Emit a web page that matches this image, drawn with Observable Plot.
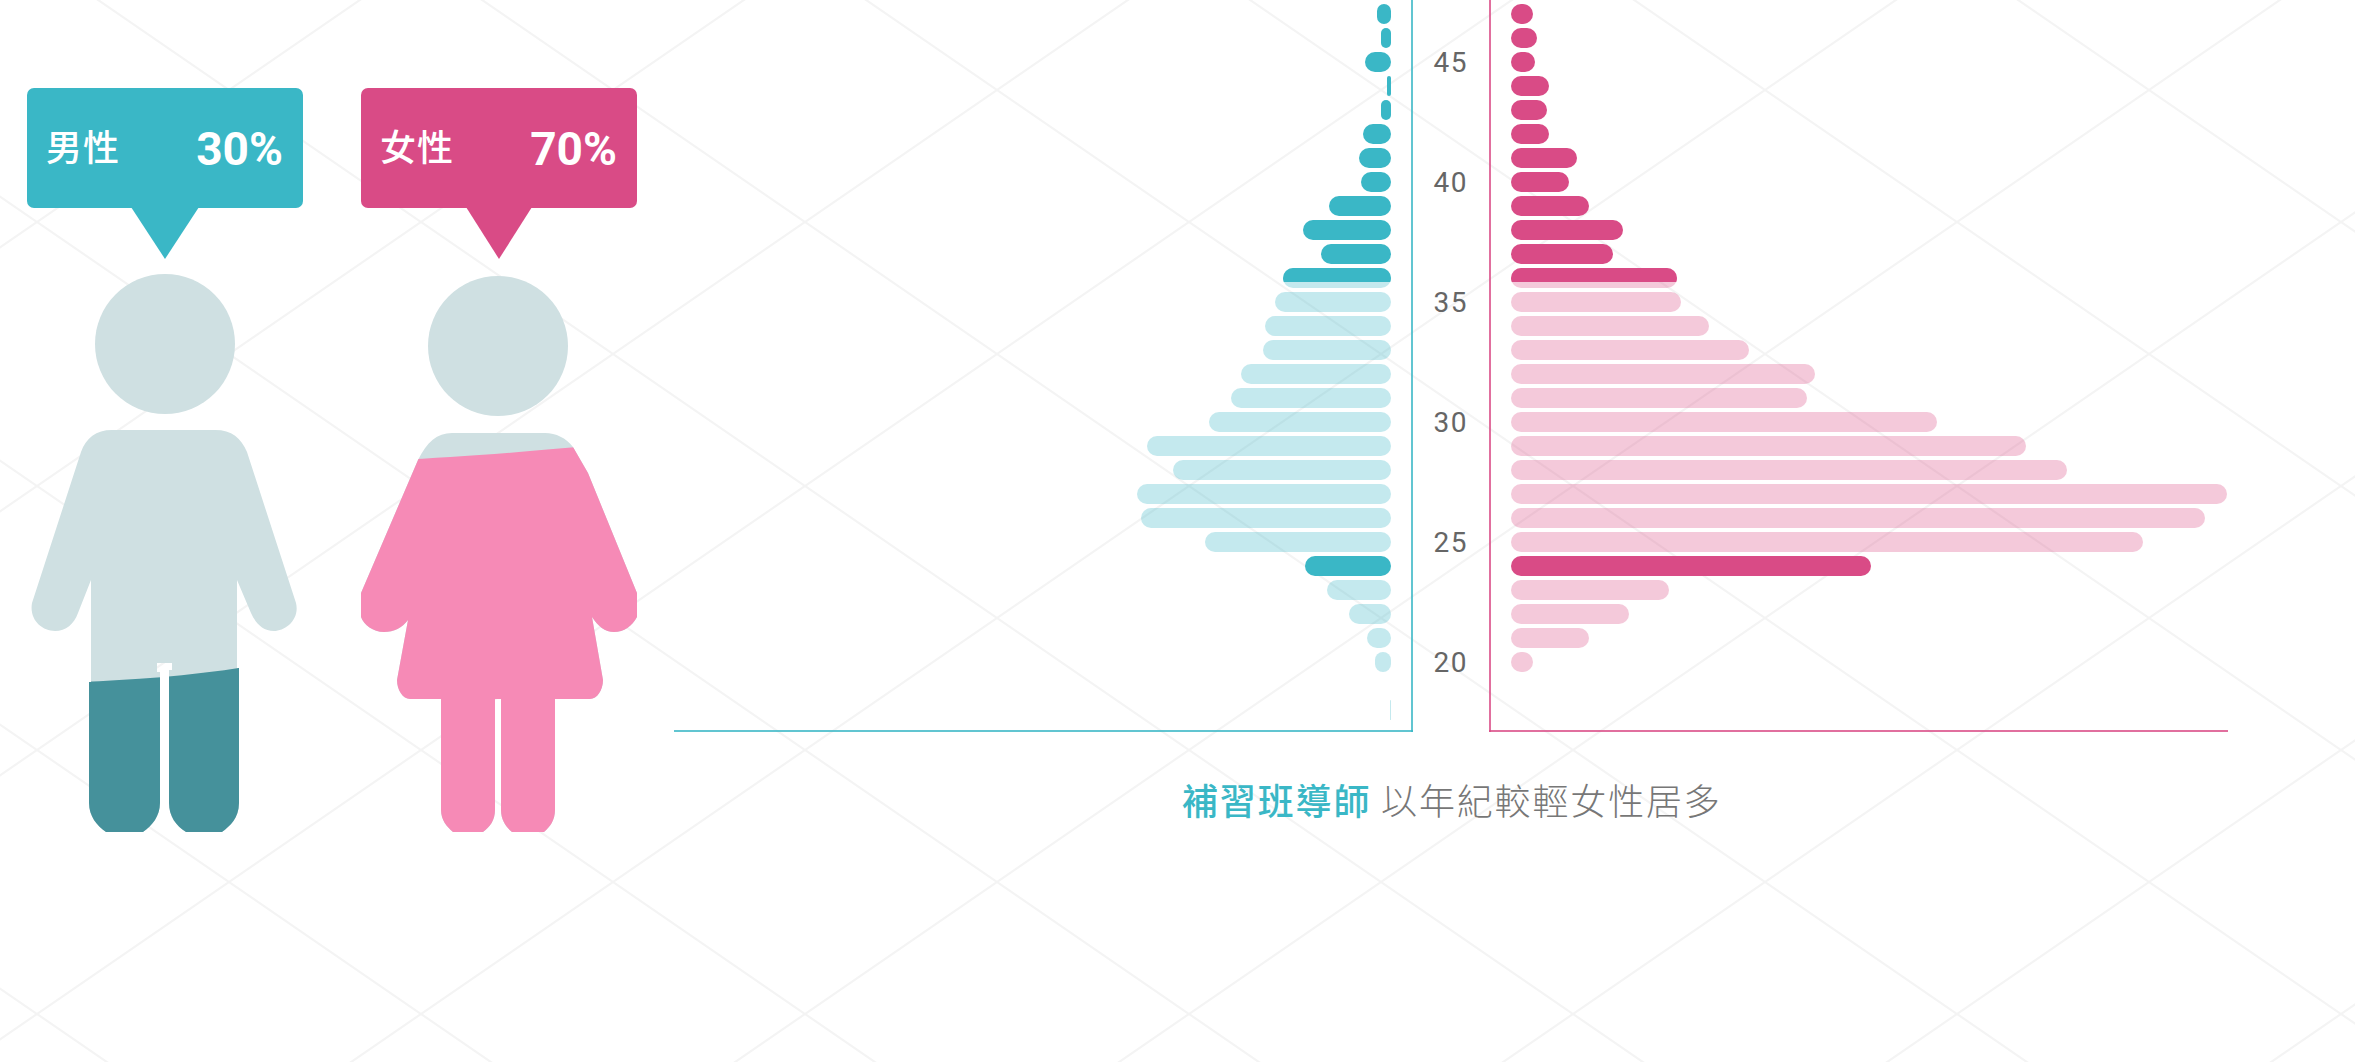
<!DOCTYPE html>
<html>
<head>
<meta charset="utf-8">
<script src="https://cdn.jsdelivr.net/npm/d3@7"></script>
<script src="https://cdn.jsdelivr.net/npm/@observablehq/plot@0.6"></script>
<style>
html,body{margin:0;padding:0;background:#fff;overflow:hidden}
#stage{position:relative;width:2355px;height:1062px;overflow:hidden}
#stage>svg,#stage>figure{position:absolute;margin:0}
#caption{position:absolute;left:1182px;top:773px;font:300 36px "Noto Sans CJK TC";letter-spacing:1.85px;color:#777;white-space:pre;line-height:52px}
#caption b{color:#3ab7c6;font-weight:500}
</style>
</head>
<body>
<div id="stage"><div id="caption"><b>補習班導師</b> 以年紀較輕女性居多</div></div>
<script>
const ages      = [18,19,20,21,22,23,24,25,26,27,28,29,30,31,32,33,34,35,36,37,38,39,40,41,42,43,44,45,46,47,48];
const male      = [0.5,0,8,12,21,32,43,93,125,127,109,122,91,80,75,64,63,58,54,35,44,31,15,16,14,5,2,13,5,7,3];
const female    = [0,0,11,39,59,79,180,316,347,358,278,257.5,213,148,152,119,99,85,83,51,56,39,29,33,19,18,19,12,13,11,18.5];
const darkAges  = [24,36,37,38,39,40,41,42,43,44,45,46,47,48];
const partAge   = 36;
const tickAges  = [20,25,30,35,40,45];
const shares    = [{label:"男性",pct:"30%"},{label:"女性",pct:"70%"}];
const TEAL="#3ab7c6", PINK="#d94b86";

const rows = ages.map((age,i)=>({age,male:male[i],female:female[i]}));
const stage = document.getElementById("stage");

/* backdrop: lattice, people, callouts */
const deco = d3.select(stage).insert("svg","#caption").attr("width",2355).attr("height",1062).style("left",0).style("top",0);
const defs = deco.append("defs");
const pat = defs.append("pattern").attr("id","lat").attr("patternUnits","userSpaceOnUse")
  .attr("x",37).attr("y",222).attr("width",384).attr("height",264);
pat.append("path").attr("d","M0 0L384 264M384 0L0 264").attr("stroke","#f4f4f4").attr("stroke-width",2.2).attr("fill","none");
deco.append("rect").attr("width",2355).attr("height",1062).attr("fill","url(#lat)");

const manBody = "M112 430H215C232 430 241 438 247 452L296 603C300 620 285 631 274 631C262 631 255 622 251 613L237 580V668H239V803C239 818 230 826 222 832H186C176 826 169 816 169 803V670H172V663H157V672H160V803C160 816 152 826 143 832H106C97 826 89 816 89 803V682H91V580L78 613C74 624 66 631 55 631C42 631 29 620 32 603L81 452C86 438 96 430 112 430Z";
const womanBody = "M452 433H545C556 433 566 438 573 447L588 473L637 593V617C632 626 624 632 614 632C605 632 598 626 592 617L603 680C603 690 597 699 590 699H555V810C555 820 550 827 544 832H512C506 827 501 820 501 810V699H495V810C495 820 490 827 483 832H453C447 827 441 820 441 810V699H410C403 699 397 690 397 680L408 620C402 628 394 632 384 632C373 632 364 625 361 617V593L418 460C427 442 437 433 452 433Z";
defs.append("clipPath").attr("id","cm").append("path").attr("d",manBody);
defs.append("clipPath").attr("id","cw").append("path").attr("d",womanBody);
const man = deco.append("g");
man.append("circle").attr("cx",165).attr("cy",344).attr("r",70).attr("fill","#cfe0e2");
man.append("path").attr("d",manBody).attr("fill","#cfe0e2");
man.append("path").attr("clip-path","url(#cm)").attr("fill","#45919b").attr("d","M80 682C130 680 190 676 245 667V840H80Z");
const woman = deco.append("g");
woman.append("circle").attr("cx",498).attr("cy",346).attr("r",70).attr("fill","#cfe0e2");
woman.append("path").attr("d",womanBody).attr("fill","#cfe0e2");
woman.append("path").attr("clip-path","url(#cw)").attr("fill","#f68ab6").attr("d","M350 462C430 459 510 454 640 441V840H350Z");

[[27,131,199,165,TEAL,46,283],[361,466,532,499,PINK,380,617]].forEach(([x,a,b,tip,c,lx,rx],i)=>{
  const g=deco.append("g");
  g.append("rect").attr("x",x).attr("y",88).attr("width",276).attr("height",120).attr("rx",7).attr("fill",c);
  g.append("path").attr("d",`M${a} 207L${tip} 259L${b} 207Z`).attr("fill",c);
  g.append("text").attr("x",lx).attr("y",161).attr("font-family","Noto Sans CJK TC").attr("font-weight",500).attr("font-size",36).attr("letter-spacing",1).attr("fill","#fff").text(shares[i].label);
  g.append("text").attr("x",rx).attr("y",165).attr("text-anchor","end").attr("font-family","Roboto").attr("font-weight",700).attr("font-size",46).attr("fill","#fff").text(shares[i].pct);
});

/* population pyramid: one Plot per side, same scales */
const yScale = {domain:[...ages].reverse(),range:[-22,722],paddingInner:1/6,paddingOuter:1/12,axis:null};
const xDomain = [-10.5,358];
const base = {height:1062,marginTop:0,marginBottom:331,y:yScale,style:{background:"none",overflow:"visible"}};
const sideMarks = (key,color,anchor)=>[
  Plot.barX(rows.filter(d=>d[key]>0&&(!darkAges.includes(d.age)||d.age===partAge)),{x1:()=>0,x2:key,y:"age",fill:color,fillOpacity:.3,rx:10}),
  Plot.barX(rows.filter(d=>d[key]>0&&darkAges.includes(d.age)&&d.age!==partAge),{x1:()=>0,x2:key,y:"age",fill:color,rx:10}),
  Plot.barX(rows.filter(d=>d.age===partAge),{x1:()=>0,x2:key,y:"age",fill:color,rx:10}),
  Plot.frame({anchor,stroke:color,strokeOpacity:.8,strokeWidth:2,dx:-.5,dy:-.5}),
  Plot.frame({anchor:"bottom",stroke:color,strokeOpacity:.8,strokeWidth:2,dx:-.5,dy:-.5})
];
const left = Plot.plot({...base,width:815,marginLeft:0,marginRight:78,
  x:{domain:xDomain,reverse:true,axis:null},
  marks:[...sideMarks("male",TEAL,"right"),
    Plot.axisY({anchor:"right",ticks:tickAges,tickSize:0,tickPadding:21,fontSize:28,fontFamily:"Roboto",fill:"#666",label:null,dy:1,style:{letterSpacing:"1.5px"}})]});
const right = Plot.plot({...base,width:738,marginLeft:0,marginRight:1,
  x:{domain:xDomain,axis:null},
  marks:sideMarks("female",PINK,"left")});
[[left,675],[right,1490]].forEach(([p,x])=>{
  p.style.position="absolute";p.style.left=x+"px";p.style.top="0";
  const barGroups=p.querySelectorAll('g[aria-label="bar"]');
  barGroups.forEach(g=>g.querySelectorAll("rect").forEach(r=>{
    const e=Math.min(10,+r.getAttribute("width")/2);
    r.setAttribute("rx",e);r.setAttribute("ry",e);
  }));
  const part=barGroups[2]&&barGroups[2].querySelector("rect");
  if(part) part.style.clipPath="inset(0 0 30% 0)";
  p.querySelectorAll('g[aria-label="y-axis tick label"] text').forEach(t=>t.style.letterSpacing="1.5px");
  stage.appendChild(p);
});
</script>
</body>
</html>
